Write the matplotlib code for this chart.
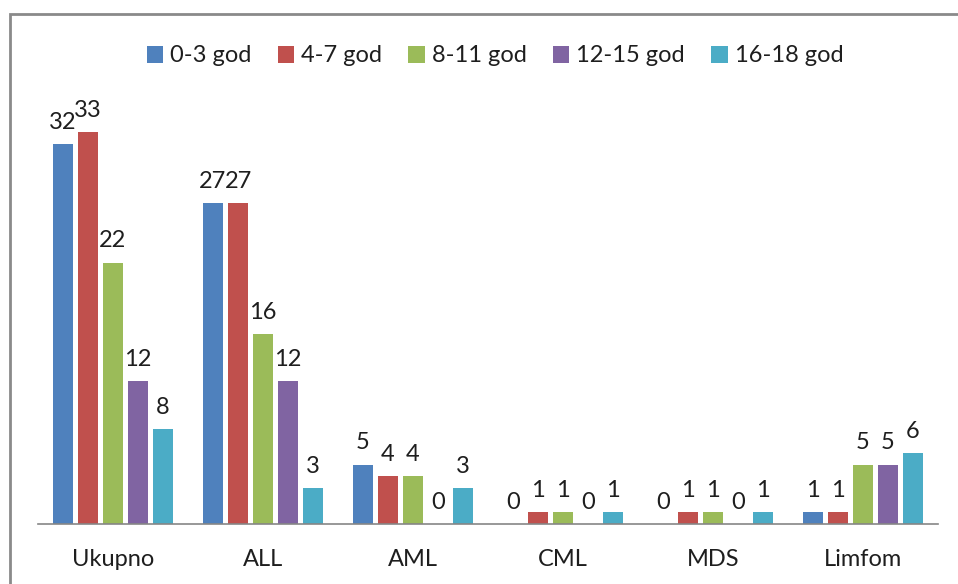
import matplotlib
matplotlib.use('Agg')
import matplotlib.pyplot as plt
import numpy as np
from matplotlib.patches import Rectangle

categories = ["Ukupno", "ALL", "AML", "CML", "MDS", "Limfom"]
series_names = ["0-3 god", "4-7 god", "8-11 god", "12-15 god", "16-18 god"]
age_0_3 = [32, 27, 5, 0, 0, 1]
age_4_7 = [33, 27, 4, 1, 1, 1]
age_8_11 = [22, 16, 4, 1, 1, 5]
age_12_15 = [12, 12, 0, 0, 0, 5]
age_16_18 = [8, 3, 3, 1, 1, 6]
series_values = [age_0_3, age_4_7, age_8_11, age_12_15, age_16_18]

COLORS = ['#4F81BD', '#C0504D', '#9BBB59', '#8064A2', '#4BACC6']

plt.rcParams['font.family'] = ['Lato', 'DejaVu Sans']

fig = plt.figure(figsize=(9.58, 5.84), dpi=100)
W, H = 958, 584
ax = fig.add_axes([38 / W, (H - 524) / H, 900 / W, 416 / H])

x = np.arange(len(categories))
pitch = 1 / 6
width = 0.135
for i, (name, vals) in enumerate(zip(series_names, series_values)):
    offs = (i - 2) * pitch
    ax.bar(x + offs, vals, width=width, color=COLORS[i], label=name)
    for xb, v in zip(x + offs, vals):
        ax.annotate(str(v), (xb, v), xytext=(0, 8), textcoords='offset points',
                    ha='center', va='bottom', fontsize=17, color='#1e1e1e')

ax.set_xlim(-0.5, len(categories) - 0.5)
ax.set_ylim(0, 35)
ax.set_xticks(x)
ax.set_xticklabels(categories, fontsize=17, color='#1e1e1e')
ax.tick_params(axis='x', length=0, pad=18)
ax.set_yticks([])
for s in ['top', 'right', 'left']:
    ax.spines[s].set_visible(False)
ax.spines['bottom'].set_color('#868686')
ax.spines['bottom'].set_linewidth(1.2)

fig.legend(loc='center', bbox_to_anchor=(495 / W, (H - 56) / H), ncol=5,
           frameon=False, fontsize=17, handlelength=0.7, handleheight=0.7,
           handletextpad=0.3, columnspacing=1.1, labelcolor='#1e1e1e')

# outer chart frame
fig.patches.append(Rectangle((10 / W, -0.05), 1.0, (H - 14) / H + 0.05,
                             transform=fig.transFigure, fill=False,
                             edgecolor='#8a8a8a', linewidth=2))

fig.savefig('out.png', dpi=100)
